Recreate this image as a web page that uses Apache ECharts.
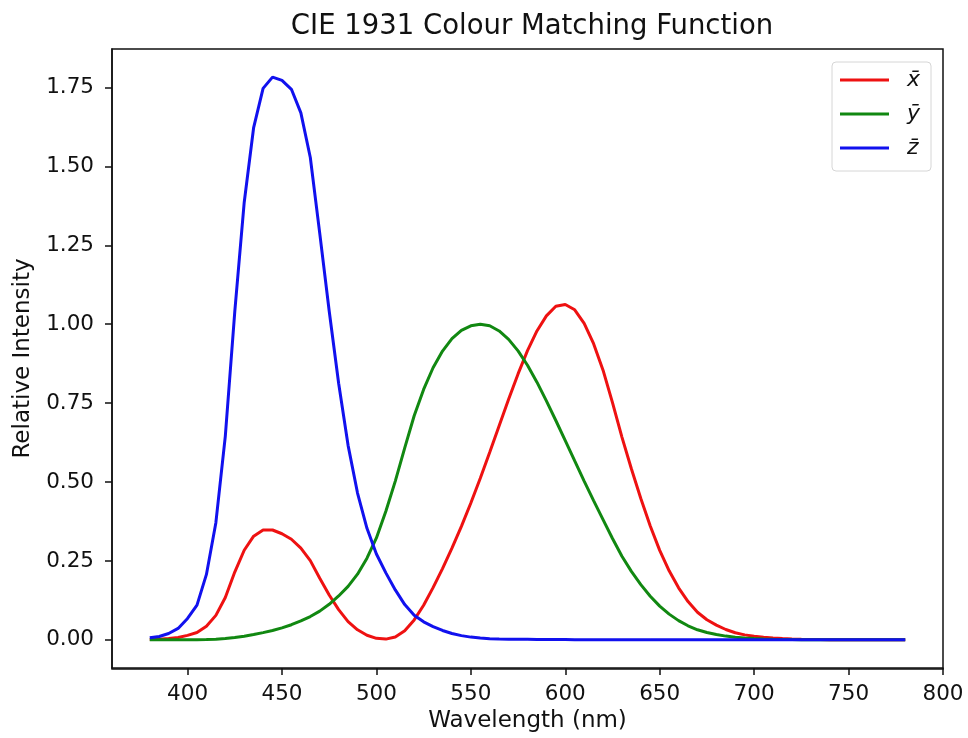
<!DOCTYPE html>
<html><head><meta charset="utf-8">
<script src="https://cdn.jsdelivr.net/npm/echarts@6/dist/echarts.min.js"></script>
<style>html,body{margin:0;padding:0;background:#fff}#c{width:968px;height:738px}</style>
</head><body><div id="c"></div>
<script>
const wavelengths = [];
for (let w = 380; w <= 780; w += 5) wavelengths.push(w);
const xBar = [0.001368,0.002236,0.004243,0.00765,0.01431,0.02319,0.04351,0.07763,0.13438,0.21477,0.2839,0.3285,0.34828,0.34806,0.3362,0.3187,0.2908,0.2511,0.19536,0.1421,0.09564,0.05795,0.03201,0.0147,0.0049,0.0024,0.0093,0.0291,0.06327,0.1096,0.1655,0.22575,0.2904,0.3597,0.43345,0.51205,0.5945,0.6784,0.7621,0.8425,0.9163,0.9786,1.0263,1.0567,1.0622,1.0456,1.0026,0.9384,0.85445,0.7514,0.6424,0.5419,0.4479,0.3608,0.2835,0.2187,0.1649,0.1212,0.0874,0.0636,0.04677,0.0329,0.0227,0.01584,0.011359,0.008111,0.00579,0.004109,0.002899,0.002049,0.00144,0.001,0.00069,0.000476,0.000332,0.000235,0.000166,0.000117,0.000083,0.000059,0.000042];
const yBar = [0.000039,0.000064,0.00012,0.000217,0.000396,0.00064,0.00121,0.00218,0.004,0.0073,0.0116,0.01684,0.023,0.0298,0.038,0.048,0.06,0.0739,0.09098,0.1126,0.13902,0.1693,0.20802,0.2586,0.323,0.4073,0.503,0.6082,0.71,0.7932,0.862,0.91485,0.954,0.9803,0.99495,1.0,0.995,0.9786,0.952,0.9154,0.87,0.8163,0.757,0.6949,0.631,0.5668,0.503,0.4412,0.381,0.321,0.265,0.217,0.175,0.1382,0.107,0.0816,0.061,0.04458,0.032,0.0232,0.017,0.01192,0.00821,0.005723,0.004102,0.002929,0.002091,0.001484,0.001047,0.00074,0.00052,0.000361,0.000249,0.000172,0.00012,0.000085,0.00006,0.000042,0.00003,0.000021,0.000015];
const zBar = [0.00645,0.01055,0.02005,0.03621,0.06785,0.1102,0.2074,0.3713,0.6456,1.03905,1.3856,1.62296,1.74706,1.7826,1.77211,1.7441,1.6692,1.5281,1.28764,1.0419,0.81295,0.6162,0.46518,0.3533,0.272,0.2123,0.1582,0.1117,0.07825,0.05725,0.04216,0.02984,0.0203,0.0134,0.00875,0.00575,0.0039,0.00275,0.0021,0.0018,0.00165,0.0014,0.0011,0.001,0.0008,0.0006,0.00034,0.00024,0.00019,0.0001,0.00005,0.00003,0.00002,0.00001,0,0,0,0,0,0,0,0,0,0,0,0,0,0,0,0,0,0,0,0,0,0,0,0,0,0,0];
const seriesNames = ['x\u0304', 'y\u0304', 'z\u0304'];
const seriesColors = ['#ee1111', '#118811', '#1111ee'];
const xTicks = [400,450,500,550,600,650,700,750,800];
const yTicks = [0,0.25,0.5,0.75,1.0,1.25,1.5,1.75];

const font = 'DejaVu Sans';
const pairs = arr => wavelengths.map((w,i)=>[w,arr[i]]);
const chart = echarts.init(document.getElementById('c'), null, {renderer:'canvas'});
chart.setOption({
  animation:false,
  backgroundColor:'#fff',
  title:{text:'CIE 1931 Colour Matching Function', left:527, textAlign:'center', top:8,
    textStyle:{fontFamily:font, fontSize:27.5, fontWeight:'normal', color:'#111'}},
  grid:{left:112, right:25, top:49, bottom:69},
  legend:{
    orient:'vertical', left:832, top:62, itemWidth:49, itemHeight:3, itemGap:12,
    padding:[7,11,12,8], borderColor:'#d6d6d6', borderWidth:1, borderRadius:4,
    icon:'rect',
    textStyle:{fontFamily:font, fontSize:22, fontStyle:'italic', color:'#111', lineHeight:22, padding:[0,0,0,13]},
    data:seriesNames
  },
  xAxis:{type:'value', min:360, max:800,
    name:'Wavelength (nm)', nameLocation:'middle', nameGap:42,
    nameTextStyle:{fontFamily:font, fontSize:23, color:'#111'},
    axisLine:{show:true, onZero:false, lineStyle:{color:'#111', width:1.5}},
    axisTick:{show:true, length:7, lineStyle:{color:'#111', width:1.5}, customValues:xTicks},
    axisLabel:{fontFamily:font, fontSize:21.5, color:'#111', margin:15, customValues:xTicks},
    splitLine:{show:false}},
  yAxis:{type:'value', min:-0.0891, max:1.8717,
    name:'Relative Intensity', nameLocation:'middle', nameGap:77, nameRotate:90,
    nameTextStyle:{fontFamily:font, fontSize:23, color:'#111'},
    axisLine:{show:true, onZero:false, lineStyle:{color:'#111', width:1.5}},
    axisTick:{show:true, length:7, lineStyle:{color:'#111', width:1.5}, customValues:yTicks},
    axisLabel:{fontFamily:font, fontSize:21.5, color:'#111', margin:18, customValues:yTicks, formatter:v=>v.toFixed(2)},
    splitLine:{show:false}},
  series:[xBar,yBar,zBar].map((arr,i)=>({
    name:seriesNames[i], type:'line', data:pairs(arr), showSymbol:false, symbol:'none',
    color:seriesColors[i], lineStyle:{width:3, color:seriesColors[i]}, itemStyle:{color:seriesColors[i]}, z:2+i
  })),
  graphic:[{type:'rect', shape:{x:112,y:49,width:831,height:620}, style:{fill:'none', stroke:'#111', lineWidth:1.5}, silent:true, z:10}]
});
</script></body></html>
